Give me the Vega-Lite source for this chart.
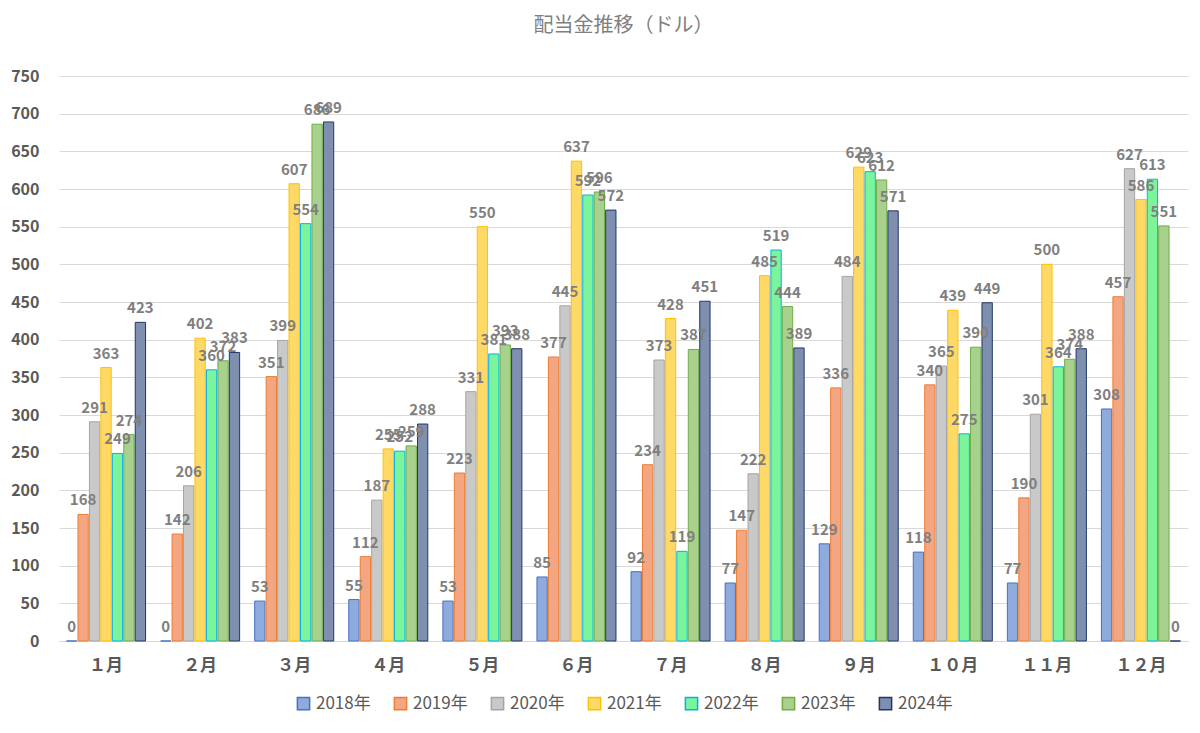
{
  "$schema": "https://vega.github.io/schema/vega-lite/v6.json",
  "width": 1200,
  "height": 733,
  "autosize": {"type": "fit", "contains": "padding"},
  "padding": {"left": 10, "right": 12, "top": 16, "bottom": 20},
  "background": "white",
  "title": {"text": "配当金推移（ドル）", "fontSize": 20, "fontWeight": "normal", "color": "#7F7F7F", "font": "Noto Sans CJK JP", "offset": 32},
  "data": {"values": [
    {"m":"１月","y":"2018年","v":0},{"m":"１月","y":"2019年","v":168},{"m":"１月","y":"2020年","v":291},{"m":"１月","y":"2021年","v":363},{"m":"１月","y":"2022年","v":249},{"m":"１月","y":"2023年","v":274},{"m":"１月","y":"2024年","v":423},
    {"m":"２月","y":"2018年","v":0},{"m":"２月","y":"2019年","v":142},{"m":"２月","y":"2020年","v":206},{"m":"２月","y":"2021年","v":402},{"m":"２月","y":"2022年","v":360},{"m":"２月","y":"2023年","v":372},{"m":"２月","y":"2024年","v":383},
    {"m":"３月","y":"2018年","v":53},{"m":"３月","y":"2019年","v":351},{"m":"３月","y":"2020年","v":399},{"m":"３月","y":"2021年","v":607},{"m":"３月","y":"2022年","v":554},{"m":"３月","y":"2023年","v":686},{"m":"３月","y":"2024年","v":689},
    {"m":"４月","y":"2018年","v":55},{"m":"４月","y":"2019年","v":112},{"m":"４月","y":"2020年","v":187},{"m":"４月","y":"2021年","v":255},{"m":"４月","y":"2022年","v":252},{"m":"４月","y":"2023年","v":259},{"m":"４月","y":"2024年","v":288},
    {"m":"５月","y":"2018年","v":53},{"m":"５月","y":"2019年","v":223},{"m":"５月","y":"2020年","v":331},{"m":"５月","y":"2021年","v":550},{"m":"５月","y":"2022年","v":381},{"m":"５月","y":"2023年","v":393},{"m":"５月","y":"2024年","v":388},
    {"m":"６月","y":"2018年","v":85},{"m":"６月","y":"2019年","v":377},{"m":"６月","y":"2020年","v":445},{"m":"６月","y":"2021年","v":637},{"m":"６月","y":"2022年","v":592},{"m":"６月","y":"2023年","v":596},{"m":"６月","y":"2024年","v":572},
    {"m":"７月","y":"2018年","v":92},{"m":"７月","y":"2019年","v":234},{"m":"７月","y":"2020年","v":373},{"m":"７月","y":"2021年","v":428},{"m":"７月","y":"2022年","v":119},{"m":"７月","y":"2023年","v":387},{"m":"７月","y":"2024年","v":451},
    {"m":"８月","y":"2018年","v":77},{"m":"８月","y":"2019年","v":147},{"m":"８月","y":"2020年","v":222},{"m":"８月","y":"2021年","v":485},{"m":"８月","y":"2022年","v":519},{"m":"８月","y":"2023年","v":444},{"m":"８月","y":"2024年","v":389},
    {"m":"９月","y":"2018年","v":129},{"m":"９月","y":"2019年","v":336},{"m":"９月","y":"2020年","v":484},{"m":"９月","y":"2021年","v":629},{"m":"９月","y":"2022年","v":623},{"m":"９月","y":"2023年","v":612},{"m":"９月","y":"2024年","v":571},
    {"m":"１０月","y":"2018年","v":118},{"m":"１０月","y":"2019年","v":340},{"m":"１０月","y":"2020年","v":365},{"m":"１０月","y":"2021年","v":439},{"m":"１０月","y":"2022年","v":275},{"m":"１０月","y":"2023年","v":390},{"m":"１０月","y":"2024年","v":449},
    {"m":"１１月","y":"2018年","v":77},{"m":"１１月","y":"2019年","v":190},{"m":"１１月","y":"2020年","v":301},{"m":"１１月","y":"2021年","v":500},{"m":"１１月","y":"2022年","v":364},{"m":"１１月","y":"2023年","v":374},{"m":"１１月","y":"2024年","v":388},
    {"m":"１２月","y":"2018年","v":308},{"m":"１２月","y":"2019年","v":457},{"m":"１２月","y":"2020年","v":627},{"m":"１２月","y":"2021年","v":586},{"m":"１２月","y":"2022年","v":613},{"m":"１２月","y":"2023年","v":551},{"m":"１２月","y":"2024年","v":0}
  ]},
  "encoding": {
    "x": {"field": "m", "type": "nominal", "sort": null, "title": null,
      "scale": {"paddingInner": 0.16, "paddingOuter": 0.08},
      "axis": {"labelAngle": 0, "labelFontSize": 17, "labelFontWeight": "bold", "labelColor": "#595959", "labelFont": "Noto Sans CJK JP", "domainColor": "#D9D9D9", "ticks": false, "labelPadding": 16}},
    "xOffset": {"field": "y", "type": "nominal", "sort": null, "scale": {"paddingInner": 0.1}},
    "y": {"field": "v", "type": "quantitative", "title": null,
      "scale": {"domain": [0, 750]},
      "axis": {"values": [0,50,100,150,200,250,300,350,400,450,500,550,600,650,700,750], "labelFontSize": 16, "labelFontWeight": "bold", "labelColor": "#595959", "domain": false, "ticks": false, "gridColor": "#D9D9D9", "labelPadding": 20}}
  },
  "layer": [
    {"mark": {"type": "bar", "strokeWidth": 1},
     "encoding": {
       "color": {"field": "y", "type": "nominal", "sort": null, "title": null,
         "scale": {"range": ["#8FAADC","#F4A582","#C9C9C9","#FFD966","#7CF59A","#A9D18E","#7F8FB0"]},
         "legend": {"orient": "bottom", "direction": "horizontal", "labelFontSize": 17, "labelColor": "#595959", "symbolType": "square", "symbolSize": 150, "columnPadding": 20, "offset": 22}},
       "stroke": {"field": "y", "type": "nominal", "sort": null, "legend": null,
         "scale": {"range": ["#4472C4","#ED7D31","#A5A5A5","#FFC000","#00B0F0","#70AD47","#203864"]}}
     }},
    {"mark": {"type": "text", "baseline": "bottom", "dy": -6, "fontSize": 15, "fontWeight": "bold", "color": "#7F7F7F"},
     "encoding": {"text": {"field": "v", "type": "quantitative"}}}
  ],
  "config": {"view": {"stroke": null}, "font": "Noto Sans CJK JP", "legend": {"layout": {"bottom": {"anchor": "middle"}}}}
}
